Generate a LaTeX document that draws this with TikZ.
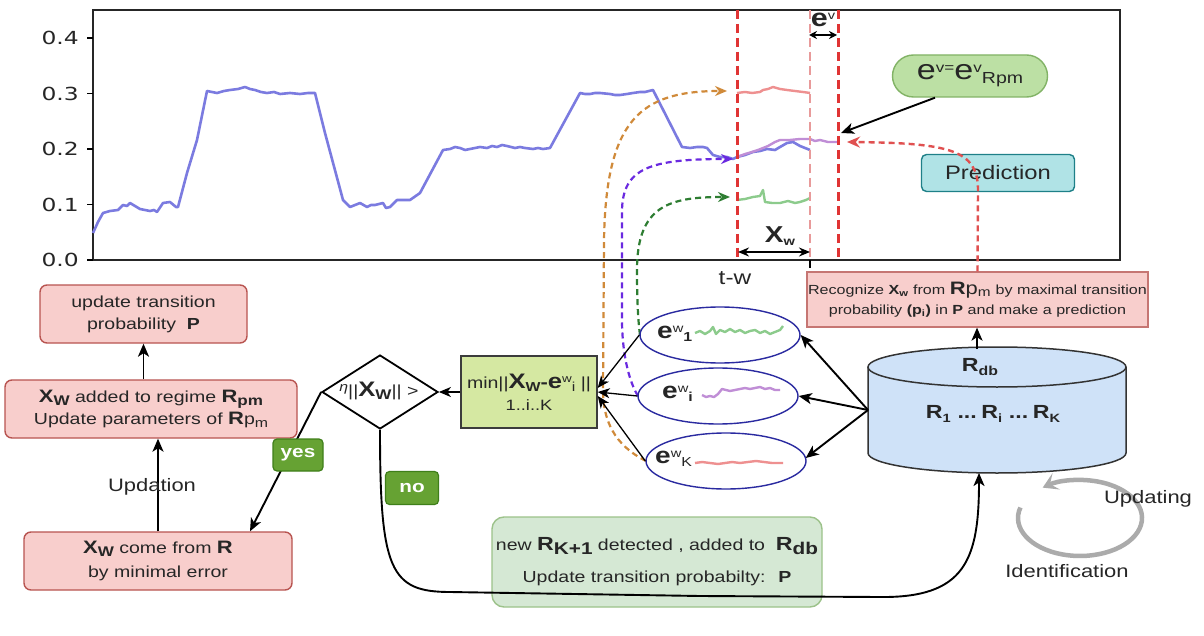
\documentclass[tikz,border=0pt]{standalone}
\usepackage{fontspec}
\setmainfont{Liberation Sans}[FakeStretch=1.22]
\newfontfamily\dvfont{DejaVu Sans}[FakeStretch=1.3]
\usetikzlibrary{arrows.meta,shapes.geometric}
\newcommand\fsz[2]{\fontsize{#1}{#2}\selectfont}
\definecolor{pinkfill}{HTML}{F8CECC}
\definecolor{pinkdraw}{HTML}{B85450}
\definecolor{limefill}{HTML}{D5E8A2}
\definecolor{limedraw}{HTML}{3C3C3C}
\definecolor{mintfill}{HTML}{D5E8D4}
\definecolor{mintdraw}{HTML}{9CC28A}
\definecolor{pillfill}{HTML}{BCE0A4}
\definecolor{pilldraw}{HTML}{82B366}
\definecolor{predfill}{HTML}{B0E3E6}
\definecolor{preddraw}{HTML}{1E8088}
\definecolor{cylfill}{HTML}{CFE2F8}
\definecolor{btnfill}{HTML}{66A233}
\definecolor{btndraw}{HTML}{3F7F1A}
\definecolor{ellblue}{HTML}{2A2AA0}
\definecolor{serblue}{HTML}{7B7BE0}
\definecolor{vred}{HTML}{E03434}
\definecolor{vpink}{HTML}{E89A9A}
\definecolor{oranged}{HTML}{D08A3A}
\definecolor{purpled}{HTML}{6A2AE0}
\definecolor{greend}{HTML}{2E7D32}
\definecolor{segred}{HTML}{EE9090}
\definecolor{seggreen}{HTML}{8CCB8C}
\definecolor{segpurple}{HTML}{C08ED6}
\definecolor{loopgrey}{HTML}{ABABAB}
\definecolor{txt}{HTML}{262626}
\definecolor{redline}{HTML}{E05050}
\begin{document}
\begin{tikzpicture}[x=1pt,y=-1pt,
  arr/.style={draw=black,line width=1.9pt,-{Stealth[length=13pt,width=11pt,inset=3.5pt]}},
  arrthin/.style={draw=black,line width=1.3pt,-{Stealth[length=12pt,width=10pt,inset=3.5pt]}},
  pinkbox/.style={draw=pinkdraw,fill=pinkfill,line width=1.4pt,rounded corners=7pt,align=center,font=\fsz{16}{22},text=txt,inner sep=0pt},
  greenbtn/.style={draw=btndraw,fill=btnfill,rounded corners=4pt,text=white,font=\fsz{17}{20}\bfseries,inner sep=0pt,line width=1.2pt},
  ell/.style={ellipse,draw=ellblue,line width=1.4pt,fill=white,minimum width=160pt,minimum height=56pt,inner sep=0pt},
  vline/.style={line width=3pt,dash pattern=on 9pt off 5pt},
  ddash/.style={line width=2.2pt,dash pattern=on 6pt off 4pt},
  lbl/.style={inner sep=0pt,text=txt}
]
\useasboundingbox (0,0) rectangle (1204,636);
\fill[white] (0,0) rectangle (1204,636);

% ---------- plot ----------
\draw[line width=1.5pt,draw=black!85] (93,10) rectangle (1120,260);
\foreach \v/\yy/\n in {0.0/260/0,0.1/204.5/1,0.2/149/2,0.3/93.5/3,0.4/38/4}{
  \draw[line width=1.4pt] (87,\yy) -- (93,\yy);
  \node[anchor=east,lbl,font=\dvfont\fsz{18}{20}] (tick\n) at (79,\yy) {\v};
}
\draw[line width=1.4pt] (810,260) -- (810,268);
\node[lbl,font=\fsz{20}{22}] (tw) at (735,278) {t-w};

\draw[serblue,line width=2.6pt,line join=round] plot coordinates {
(93,233) (98,222) (103,213) (110,211) (118,210) (123,205) (127,206) (130,203) (135,206) (140,209) (145,210) (150,211) (154,210) (157,212) (163,203) (170,202) (176,207) (178,207) (187,173) (197,140) (207,91) (212,92) (217,93) (224,91) (230,90) (238,89) (245,87) (250,89) (255,90) (261,92) (267,93) (274,92) (280,94) (290,93) (300,94) (308,93) (315,93) (325,133) (343,200) (350,207) (355,205) (360,203) (367,207) (371,205) (375,205) (383,203) (386,208) (390,207) (397,200) (405,200) (410,200) (420,193) (443,150) (450,149) (455,147) (460,148) (465,150) (470,149) (480,147) (487,148) (492,146) (497,147) (502,145) (507,146) (515,148) (520,147) (525,148) (533,149) (538,148) (543,149) (550,148) (580,93) (585,94) (590,94) (595,93) (600,93) (610,94) (615,95) (620,95) (627,94) (633,93) (640,92) (645,92) (653,90) (682,147) (690,148) (697,147) (703,147) (707,148) (713,155) (720,157) (727,157) (733,159) (737,157) (745,155) (753,152) (760,151) (767,149) (775,150) (780,147) (787,143) (793,142) (800,146) (810,150)};
\draw[segpurple,line width=2.4pt,line join=round] plot coordinates {
(737,157) (745,154) (752,152) (758,150) (763,148) (768,146) (775,142) (780,140) (790,140) (800,139) (810,139) (815,141) (820,140) (828,142) (837,142)};
\draw[segred,line width=2.4pt,line join=round] plot coordinates {
(737,93) (745,92) (752,93) (760,92) (763,90) (768,89) (773,87) (780,89) (787,90) (795,91) (803,92) (810,93)};
\draw[seggreen,line width=2.4pt,line join=round] plot coordinates {
(737,200) (745,199) (753,197) (760,196) (763,190) (765,202) (772,203) (780,203) (788,201) (795,203) (800,202) (806,200) (810,198)};

\draw[vline,draw=vred] (737,10) -- (737,260);
\draw[vline,draw=vpink,line width=2.4pt] (810,10) -- (810,260);
\draw[vline,draw=vred] (838,10) -- (838,260);

\node[lbl] (evlbl) at (823,20) {{\fsz{25}{25}\bfseries e}\raisebox{7pt}{\fsz{12}{12}v}};
\coordinate (evL) at (809,35);
\coordinate (evR) at (837,35);
\draw[line width=1.6pt,{Stealth[length=8pt,width=8pt]}-{Stealth[length=8pt,width=8pt]}] (evL) -- (evR);
\node[lbl] (xwlbl) at (780,236) {{\fsz{23}{23}\bfseries X}\raisebox{-3pt}{\fsz{12}{12}\bfseries w}};
\coordinate (xwL) at (738,252);
\coordinate (xwR) at (810,252);
\draw[line width=1.8pt,{Stealth[length=11pt,width=9pt]}-{Stealth[length=11pt,width=9pt]}] (xwL) -- (xwR);

% ---------- right top ----------
\node[draw=pilldraw,fill=pillfill,line width=1.4pt,rounded corners=21pt,minimum width=155pt,minimum height=42pt,inner sep=0pt,text=txt] (pill) at (970,76)
  {{\fsz{28}{28}e}\raisebox{7pt}{\fsz{14}{14}v=}{\fsz{28}{28}e}\raisebox{7pt}{\fsz{14}{14}v}\raisebox{-4pt}{\fsz{16}{16}Rpm}};
\node[draw=preddraw,fill=predfill,line width=1.4pt,rounded corners=5pt,minimum width=153pt,minimum height=37pt,inner sep=0pt,font=\fsz{19.5}{22},text=txt] (pred) at (998,173) {Prediction};
\coordinate (tipP) at (841,133);
\draw[arr] ([xshift=-35pt]pill.south) -- (tipP);

\node[draw=pinkdraw!80,fill=pinkfill,line width=1.3pt,minimum width=341pt,minimum height=55pt,inner sep=0pt,align=center,font=\fsz{13.2}{20},text=txt] (ann) at (977.5,299.5)
  {Recognize \textbf{X\textsubscript{w}} from {\fsz{18}{18}\textbf{R}p\textsubscript{m}} by maximal transition\\probability \textbf{(p\textsubscript{i})} in \textbf{P} and make a prediction};
\coordinate (tipR) at (847,142);
\draw[redline,ddash,line width=2.4pt,-{Stealth[length=13pt,width=11pt]}] (ann.north) -- (978,190) .. controls (978,150) and (950,143) .. (tipR);

% ---------- cylinder ----------
\node[minimum width=258pt,minimum height=126pt,inner sep=0pt] (cyl) at (997,410) {};
\fill[cylfill] (868,367) -- (868,453) arc[start angle=180,end angle=0,x radius=129,y radius=20] -- (1126,367) -- cycle;
\fill[cylfill] (997,367) ellipse [x radius=129,y radius=20];
\draw[line width=1.5pt,draw=black!80] (868,367) -- (868,453) arc[start angle=180,end angle=0,x radius=129,y radius=20] -- (1126,367);
\draw[line width=1.5pt,draw=black!80] (997,367) ellipse [x radius=129,y radius=20];
\node[lbl] (rdb) at (980,367) {{\fsz{19}{19}\bfseries R}\raisebox{-4pt}{\fsz{13}{13}\bfseries db}};
\node[lbl] (rlist) at (993,414) {\bfseries{\fsz{19}{19}R}\raisebox{-4pt}{\fsz{12}{12}1} \ {\fsz{19}{19}...} {\fsz{19}{19}R}\raisebox{-4pt}{\fsz{12}{12}i} \ {\fsz{19}{19}...} {\fsz{19}{19}R}\raisebox{-4pt}{\fsz{12}{12}K}};
\coordinate (cylW) at (868,410);
\coordinate (cylTop) at (977,349);
\coordinate (cylBot) at (979,473);
\draw[arr] (cylTop) -- (cylTop |- ann.south);

% ---------- ellipses ----------
\draw[oranged,ddash,-{Stealth[length=12pt,width=10pt]}] (646,461) .. controls (614,445) and (603,420) .. (603,390) -- (604,240) .. controls (606,120) and (640,91) .. (727,91);
\draw[purpled,ddash,-{Stealth[length=12pt,width=10pt]}] (638,396) .. controls (628,380) and (622,350) .. (622,320) -- (622,210) .. controls (623,168) and (650,159) .. (733,159);
\draw[greend,ddash,-{Stealth[length=12pt,width=10pt]}] (640,335) .. controls (638,320) and (637,300) .. (637,270) .. controls (637,205) and (670,197) .. (730,197);

\node[ell] (e1) at (720,335) {};
\node[ell] (ei) at (718,396) {};
\node[ell] (ek) at (726,461) {};
\node[anchor=base west,lbl] (l1) at (657,338) {{\fsz{23}{23}\bfseries e}\raisebox{6pt}{\fsz{12}{12}w}\raisebox{-3pt}{\fsz{13}{13}\bfseries 1}};
\node[anchor=base west,lbl] (li) at (662,398) {{\fsz{23}{23}\bfseries e}\raisebox{6pt}{\fsz{12}{12}w}\raisebox{-3pt}{\fsz{13}{13}\bfseries i}};
\node[anchor=base west,lbl] (lk) at (655,463) {{\fsz{23}{23}\bfseries e}\raisebox{6pt}{\fsz{12}{12}w}\raisebox{-3pt}{\fsz{13}{13}K}};
\draw[seggreen,line width=2.4pt,line join=round] plot coordinates {(695,333)(700,331)(705,334)(710,331)(713,327)(716,334)(720,330)(725,332)(730,329)(735,332)(740,330)(745,333)(750,331)(755,330)(760,333)(765,331)(770,334)(775,332)(780,330)(783,326)};
\draw[segpurple,line width=2.4pt,line join=round] plot coordinates {(702,395)(706,397)(710,396)(714,397)(718,394)(722,389)(726,390)(730,391)(735,390)(740,389)(745,388)(750,389)(755,388)(760,387)(765,389)(770,388)(775,390)(780,390)};
\draw[segred,line width=2.4pt,line join=round] plot coordinates {(695,463)(702,462)(710,463)(718,464)(725,463)(732,462)(740,463)(748,462)(756,461)(764,462)(772,463)(783,463)};

\draw[arr] (cylW) -- (e1.east);
\draw[arr] (cylW) -- (ei.east);
\draw[arr] (cylW) -- ([xshift=-1pt,yshift=3pt]ek.east);

% ---------- min box & diamond ----------
\node[draw=limedraw,fill=limefill,line width=1.4pt,minimum width=136pt,minimum height=72pt,inner sep=0pt,align=center,text=txt] (minb) at (529,392)
  {{\fsz{16}{18}min||}{\fsz{21}{22}\bfseries X}\raisebox{-3pt}{\fsz{13}{13}\bfseries W}{\fsz{18}{18}\bfseries -}{\fsz{21}{22}\bfseries e}\raisebox{6pt}{\fsz{11}{11}w}\raisebox{-3pt}{\fsz{13}{13}i}{\fsz{16}{18} ||}\\[7pt]{\fsz{15}{16}1..i..K}};
\draw[arrthin] (e1.west) -- ([yshift=4pt]minb.east);
\draw[arrthin] (ei.west) -- (minb.east);
\draw[arrthin] (ek.west) -- ([yshift=-4pt]minb.east);

\node[diamond,draw=black,line width=1.8pt,fill=white,minimum width=116pt,minimum height=74pt,inner sep=0pt] (dia) at (380,392) {};
\node[lbl,font=\fsz{16}{18}] (diatxt) at (379,391) {\raisebox{5pt}{\fsz{13}{13}\textit{η}}||{\fsz{21}{22}\bfseries X}\raisebox{-3pt}{\fsz{14}{14}\bfseries W}|| >};
\draw[arrthin] (minb.west) -- (dia.east);

% ---------- left boxes ----------
\node[pinkbox,minimum width=207pt,minimum height=58pt] (boxA) at (143.5,314) {update transition\\probability \ \textbf{P}};
\node[pinkbox,minimum width=292pt,minimum height=58pt] (boxB) at (151,409)
  {{\fsz{18}{18}\bfseries X}\raisebox{-3pt}{\fsz{14}{14}\bfseries W} added to regime {\fsz{18}{18}\bfseries R}\raisebox{-3pt}{\fsz{14}{14}\bfseries pm}\\Update parameters of {\fsz{18}{18}\bfseries R}p\raisebox{-3pt}{\fsz{13}{13}m}};
\node[pinkbox,minimum width=268pt,minimum height=58pt,font=\fsz{16}{24}] (boxC) at (158,561)
  {{\fsz{18}{18}\bfseries X}\raisebox{-3pt}{\fsz{14}{14}\bfseries W} come from {\fsz{18}{18}\bfseries R}\\by minimal error};
\draw[arr] (boxA.south |- boxB.north) -- (boxA.south);
\draw[arr] (boxC.north) -- (boxC.north |- boxB.south);
\node[lbl,font=\fsz{18}{20}] (updation) at (152,487) {Updation};

\draw[arr] (dia.west) -- ([xshift=92pt]boxC.north);
\node[greenbtn,minimum width=50pt,minimum height=32pt] (yes) at (298,455) {yes};

% ---------- no branch ----------
\node[draw=mintdraw,fill=mintfill,line width=1.4pt,rounded corners=12pt,minimum width=330pt,minimum height=90pt,inner sep=0pt,align=center,font=\fsz{16}{18},text=txt] (newb) at (657,562)
  {new {\fsz{19}{19}\bfseries R}\raisebox{-4pt}{\fsz{17}{17}\bfseries K+1} detected , added to \ {\fsz{19}{19}\bfseries R}\raisebox{-4pt}{\fsz{17}{17}\bfseries db}\\[14pt]Update transition probabilty: \ \textbf{P}};
\draw[arr] (dia.south) .. controls (380,570) and (390,592) .. (450,592) -- (700,596) -- (880,597) .. controls (965,598) and (979,560) .. (cylBot);
\node[greenbtn,minimum width=53pt,minimum height=33pt] (no) at (412,488) {no};

% ---------- updating loop ----------
\draw[loopgrey,line width=4.5pt,-{Stealth[length=15pt,width=18pt,inset=7pt]}] (1020.4,507.5) arc[start angle=196,end angle=-127,x radius=62,y radius=38];
\node[lbl,font=\fsz{18}{20}] (updating) at (1148,499) {Updating};
\node[lbl,font=\fsz{18}{20}] (ident) at (1067,571) {Identification};
\end{tikzpicture}
\end{document}
